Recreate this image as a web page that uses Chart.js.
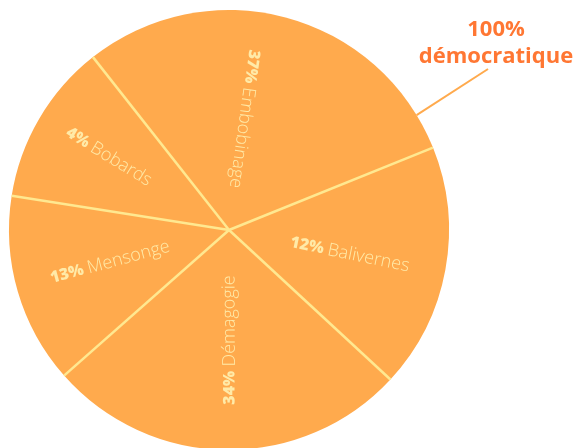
<!DOCTYPE html>
<html lang="fr">
<head>
<meta charset="utf-8">
<title>100% démocratique</title>
<script src="https://cdn.jsdelivr.net/npm/chart.js@4.4.1/dist/chart.umd.min.js"></script>
<style>
  html, body { margin: 0; padding: 0; background: #ffffff; overflow: hidden; }
  #wrap { width: 579px; height: 470px; }
</style>
</head>
<body>
<div id="wrap"><canvas id="pie" width="579" height="470"></canvas></div>
<script>
// Slice names, the percentages printed on them, and the share of the circle
// each slice actually takes in the picture (the drawing is not proportional)
const sliceNames = ["Embobinage", "Balivernes", "Démagogie", "Mensonge", "Bobards"];
const printedPercents = ["37%", "12%", "34%", "13%", "4%"];
const sliceShares = [29.5, 18.0, 26.6, 14.0, 11.9];
const calloutLines = ["100%", "démocratique"];

// Layout / style constants
const START_ROTATION = -38.2;           // degrees, clockwise from top
const LABEL_RADIUS = [0.51, 0.56, 0.5, 0.56, 0.64];
const LABEL_SHIFT = [-7, 1, -1, 1, 1];  // degrees off the slice middle
const CALLOUT_ANGLE = 58.5;             // where the leader line touches the pie
const COLORS = {
  slice: "#FFAA4D",
  separator: "#FFE890",
  label: "#FFEAA8",
  callout: "#FF7733",
  leader: "#FFAA4D",
};

/**
 * Separators, radial slice labels and the callout
 */
const piePlugin = {
  id: "pieDecor",
  afterDatasetsDraw(chart) {
    const ctx = chart.ctx;
    const meta = chart.getDatasetMeta(0);

    meta.data.forEach((arc, i) => {
      const { x, y, startAngle, endAngle, outerRadius } = arc.getProps(
        ["x", "y", "startAngle", "endAngle", "outerRadius"],
        true
      );

      // separator on the start edge of every slice
      ctx.save();
      ctx.strokeStyle = COLORS.separator;
      ctx.lineWidth = 2.5;
      ctx.beginPath();
      ctx.moveTo(x, y);
      ctx.lineTo(x + outerRadius * Math.cos(startAngle), y + outerRadius * Math.sin(startAngle));
      ctx.stroke();
      ctx.restore();

      // radial label
      const mid = (startAngle + endAngle) / 2 + LABEL_SHIFT[i] * Math.PI / 180;
      const r = outerRadius * LABEL_RADIUS[i];
      const lx = x + r * Math.cos(mid);
      const ly = y + r * Math.sin(mid);
      // read outward only when that points roughly to the right
      let rot = mid;
      if (Math.cos(rot) < Math.cos(Math.PI / 4)) rot += Math.PI;

      ctx.save();
      ctx.translate(lx, ly);
      ctx.rotate(rot);
      ctx.fillStyle = COLORS.label;
      ctx.textBaseline = "middle";
      ctx.textAlign = "left";
      const boldFont = "800 16px 'Open Sans', sans-serif";
      const lightFont = "300 18px 'Open Sans', sans-serif";
      ctx.font = boldFont;
      const pw = ctx.measureText(printedPercents[i] + " ").width;
      ctx.font = lightFont;
      const nw = ctx.measureText(sliceNames[i]).width;
      const start = -(pw + nw) / 2;
      ctx.font = boldFont;
      ctx.fillText(printedPercents[i], start, 0);
      ctx.font = lightFont;
      ctx.fillText(sliceNames[i], start + pw, 0);
      ctx.restore();
    });

    // callout with leader line
    const first = meta.data[0];
    const { x, y, outerRadius } = first.getProps(["x", "y", "outerRadius"], true);
    const a = (CALLOUT_ANGLE - 90) * Math.PI / 180;
    ctx.save();
    ctx.strokeStyle = COLORS.leader;
    ctx.lineWidth = 2;
    ctx.beginPath();
    ctx.moveTo(x + outerRadius * Math.cos(a), y + outerRadius * Math.sin(a));
    ctx.lineTo(488, 69);
    ctx.stroke();

    ctx.fillStyle = COLORS.callout;
    ctx.textAlign = "center";
    ctx.textBaseline = "alphabetic";
    ctx.font = "700 22px 'Open Sans', sans-serif";
    ctx.fillText(calloutLines[0], 496, 36);
    ctx.fillText(calloutLines[1], 496, 63);
    ctx.restore();
  },
};

new Chart(document.getElementById("pie"), {
  type: "pie",
  data: {
    labels: sliceNames,
    datasets: [
      {
        data: sliceShares,
        backgroundColor: COLORS.slice,
        borderWidth: 0,
      },
    ],
  },
  options: {
    responsive: false,
    devicePixelRatio: 1,
    animation: false,
    rotation: START_ROTATION,
    layout: {
      padding: { left: 9, right: 130, top: 10, bottom: 20 },
    },
    plugins: {
      legend: { display: false },
      tooltip: { enabled: false },
    },
  },
  plugins: [piePlugin],
});
</script>
</body>
</html>
